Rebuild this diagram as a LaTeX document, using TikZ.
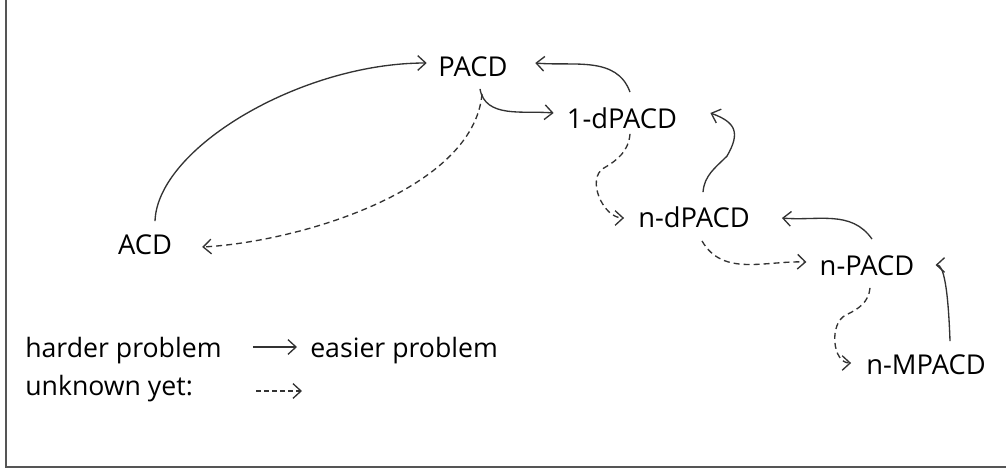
\documentclass[tikz,border=0pt]{standalone}
\usepackage{fontspec}
\setmainfont{Open Sans}
\usepackage{tikz}
\usetikzlibrary{arrows.meta, calc}
\definecolor{linegray}{RGB}{51, 51, 51}
\definecolor{framegray}{RGB}{85, 85, 85}

\begin{document}
\begin{tikzpicture}[x=0.75pt, y=0.75pt]
  \tikzstyle{prob} = [inner sep=0pt, text height=14.5pt, text depth=0pt, font=\fontsize{20.5}{24}\selectfont]
  \tikzstyle{legend} = [inner sep=0pt, anchor=base west, font=\fontsize{20}{24}\selectfont]
  \tikzstyle{arrow} = [draw=linegray, line width=1pt, -{Straight Barb[length=6pt,width=11pt]}]
  \tikzstyle{dasharrow} = [arrow, dash pattern=on 4.5pt off 3pt]

  \useasboundingbox (0,0) rectangle (1006,469);
  \draw[framegray, line width=1.5pt] (6,469) -- (6,2) -- (1006,2);

  % problems
  \node (pacd) [prob] at (473,402) {PACD};
  \node (dpacd) [prob] at (622,350) {1-dPACD};
  \node (ndpacd) [prob] at (694,251) {n-dPACD};
  \node (acd) [prob] at (145,224) {ACD};
  \node (npacd) [prob] at (867,203) {n-PACD};
  \node (nmpacd) [prob] at (926,104) {n-MPACD};

  % reductions
  \draw [arrow] ($(acd.north)+(10,14)$) to[out=88, in=180, out distance=55pt, in distance=94pt] ($(pacd.west)+(-11.5,4)$);
  \draw [dasharrow] ($(pacd.south)+(9,-17)$) to[out=-95, in=3, out distance=72pt, in distance=73pt] ($(acd.east)+(30,-2)$);
  \draw [arrow] ($(pacd.south)+(7,-12)$) to[out=-80, in=175] ($(dpacd.west)+(-13,6)$);
  \draw [arrow] ($(dpacd.north)+(8,17)$) to[out=110, in=-5] ($(pacd.east)+(27.5,4)$);
  \draw [dasharrow] ($(dpacd.south)+(8,-5)$) to[out=-95, in=30] ++(-26,-34) to[out=210, in=180] ($(ndpacd.west)+(-14,0)$);
  \draw [arrow] ($(ndpacd.north)+(9,16)$) to[out=85, in=225] ++(24,36) to[out=60, in=-20, looseness=1.5] ($(dpacd.east)+(33,6)$);
  \draw [dasharrow] ($(ndpacd.south)+(8,-13)$) to[out=-60, in=178] ($(npacd.west)+(-13,4)$);
  \draw [arrow] ($(npacd.north)+(5,17)$) to[out=125, in=-5] ($(ndpacd.east)+(32,0)$);
  \draw [dasharrow] ($(npacd.south)+(3,-12)$) to[out=-95, in=25] ++(-24,-27) to[out=205, in=180] ($(nmpacd.west)+(-15,2)$);
  \draw [arrow] ($(nmpacd.north)+(24,14)$) to[out=92, in=0, out distance=40pt, in distance=6pt] ($(npacd.east)+(21,1)$);

  % legend
  \node (harder) [legend] at (25,112) {harder problem};
  \node (easier) [legend] at (310,112) {easier problem};
  \node (unknown) [legend] at (25,74) {unknown yet:};
  \coordinate (dashend) at (302,78);
  \draw [arrow] ($(harder.base east)+(31,10)$) -- ($(easier.base west)+(-13,10)$);
  \draw [arrow, dash pattern=on 3.5pt off 2.5pt] ($(unknown.base east)+(63,4)$) -- (dashend);
\end{tikzpicture}
\end{document}
